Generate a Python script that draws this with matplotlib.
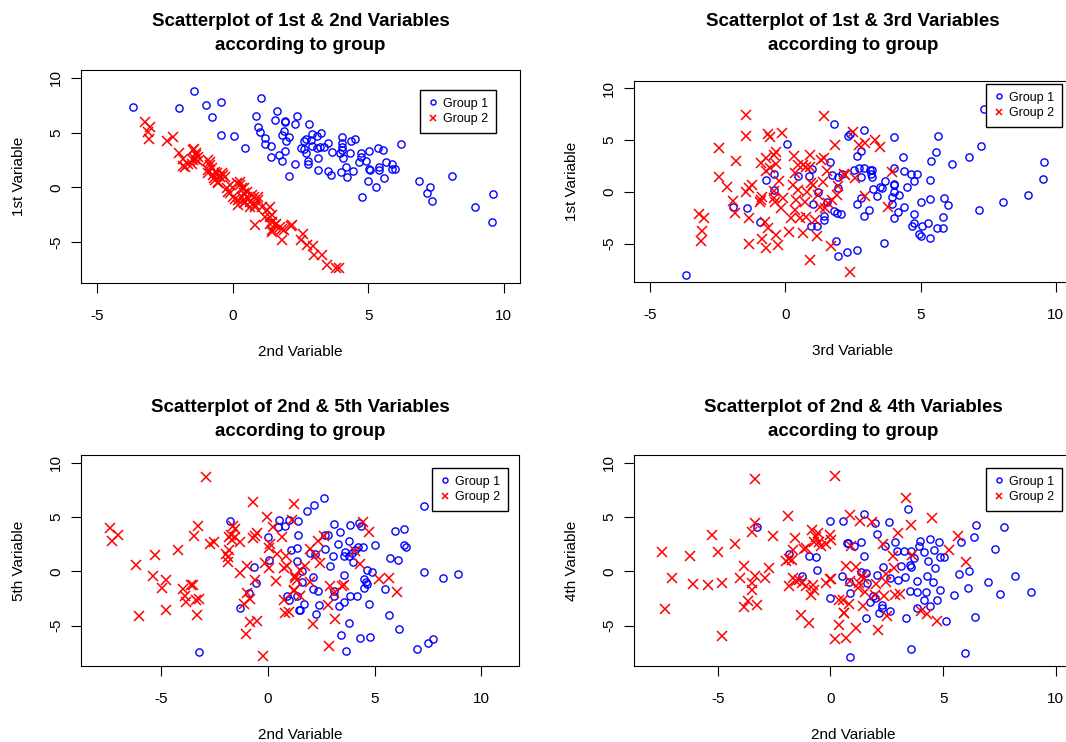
import matplotlib
matplotlib.use("Agg")
import matplotlib.pyplot as plt

plt.rcParams["font.family"] = ["Liberation Sans", "DejaVu Sans"]
plt.rcParams["axes.unicode_minus"] = False

# ---- panel 1: 2nd (x) vs 1st (y) ----
p1_g1_x = [-3.69, -1.42, -1.98, -0.99, -0.42, -0.77, -0.42, 0.06, 1.03, 0.84, 1.63, 1.55, 1.91, 1.91,
           0.93, 0.99, 2.38, 2.29, 1.20, 1.20, 1.41, 1.89, 1.81, 2.08, 1.98, 1.91, 1.72, 1.41, 1.81,
           2.29, 2.08, 0.45, 2.50, 2.81, 2.93, 3.12, 3.24, 2.72, 2.62, 2.90, 2.62, 2.69, 2.91, 3.10,
           3.22, 3.37, 3.51, 3.68, 4.02, 4.02, 4.02, 4.02, 3.96, 4.33, 4.38, 4.52, 4.07, 4.75, 5.04,
           5.35, 5.56, 4.73, 4.67, 4.91, 4.17, 3.98, 4.42, 4.21, 5.01, 5.05, 5.38, 5.41, 5.66, 5.88,
           5.88, 6.00, 4.98, 5.29, 5.59, 6.21, 4.77, 3.16, 3.16, 3.53, 3.64, 2.77, 2.77, 6.86, 7.27,
           7.15, 7.35, 8.08, 8.95, 9.60, 9.57]
p1_g1_y = [7.38, 8.84, 7.23, 7.56, 7.77, 6.40, 4.79, 4.66, 8.20, 6.49, 7.01, 6.19, 6.07, 5.95,
           5.55, 5.09, 6.49, 5.76, 4.48, 3.96, 3.81, 5.12, 4.79, 4.57, 4.27, 3.32, 2.96, 2.74, 2.44,
           2.10, 1.04, 3.60, 3.60, 5.76, 4.88, 4.66, 4.94, 4.42, 4.27, 4.33, 3.51, 3.11, 3.78, 3.57,
           3.72, 3.66, 4.02, 3.26, 4.57, 4.09, 3.66, 3.41, 3.11, 3.11, 4.27, 4.45, 2.65, 3.17, 3.29,
           3.60, 3.38, 2.74, 2.35, 2.44, 1.89, 1.37, 1.49, 0.91, 1.68, 1.59, 1.89, 1.59, 2.32, 2.16,
           1.68, 1.68, 0.61, 0.06, 0.82, 3.93, -0.88, 2.65, 1.59, 1.49, 1.13, 2.44, 2.10, 0.58, 0.06,
           -0.49, -1.22, 1.01, -1.77, -0.61, -3.17]
p1_g2_x = [-3.22, -3.04, -3.11, -3.09, -2.43, -2.20, -1.98, -1.83, -1.77, -1.44, -1.34, -1.40, -1.27,
           -1.49, -0.84, -0.90, -0.78, -0.72, -0.59, -0.47, -0.35, -0.66, -0.53, -0.22, -0.10, 0.15,
           0.27, 0.33, 0.40, 0.52, 0.77, 0.95, 0.64, 0.40, 0.83, 1.08, 1.26, 1.39, 1.45, 1.58, 1.73,
           0.83, 1.45, 1.88, 2.15, 1.82, 2.50, -0.16, 0.02, 0.21, 2.60, 2.75, 2.97, 3.00, 3.31, 3.49,
           3.80, 3.92, -1.46, -1.37, -1.27, -1.46, -1.65, -1.83, -0.90, -0.84, -0.65, -0.41, -0.29,
           -0.90, -0.71, -0.53, -0.10, 0.27, 0.40, 0.52, 0.33, 0.46, 0.70, 0.95, 0.82, 0.63, 1.20,
           1.38, 1.45, 1.38, 1.57, 1.45, 1.82, 2.19, 0.09, 0.21]
p1_g2_y = [6.01, 5.55, 5.09, 4.39, 4.24, 4.63, 3.11, 2.56, 1.89, 3.51, 2.96, 2.56, 2.44, 2.10, 2.35,
           1.59, 1.74, 1.13, 1.28, 0.98, 1.13, 0.67, 0.52, -0.09, 0.21, 0.37, 0.52, -0.09, -0.55,
           -0.85, -0.85, -0.85, -1.31, -1.46, -1.77, -1.77, -2.07, -2.68, -3.14, -3.29, -3.60, -3.45,
           -3.90, -3.90, -3.54, -4.82, -4.82, -0.40, -0.85, -1.16, -4.21, -5.27, -5.34, -6.19, -6.19,
           -7.10, -7.35, -7.32, 3.41, 3.11, 2.80, 2.50, 2.10, 1.98, 2.50, 2.04, 1.43, 1.28, 0.98,
           1.28, 0.82, 0.37, -0.55, 0.21, -0.09, -0.40, -0.85, -1.31, -0.70, -1.16, -1.62, -1.77,
           -2.68, -1.77, -2.53, -3.29, -3.45, -4.05, -3.75, -3.45, -1.01, -1.62]

# ---- panel 2: 3rd (x) vs 1st (y) ----
p2_g1_x = [-3.66, -1.95, -1.41, -0.94, -0.72, -0.41, -0.41, 0.06, 0.46, 0.88, 1.00, 1.21, 1.03, 1.53,
           0.94, 1.16, 1.44, 1.43, 1.65, 1.74, 1.93, 2.09, 1.94, 1.78, 1.90, 2.05, 1.88, 1.96, 2.28,
           1.81, 2.31, 2.40, 2.89, 4.02, 5.63, 7.34, 7.24, 6.80, 6.18, 5.40, 5.58, 4.34, 2.81, 2.66,
           2.71, 2.92, 2.55, 3.13, 3.19, 3.16, 3.19, 2.78, 4.02, 4.40, 4.65, 4.86, 4.75, 5.36, 3.69,
           3.50, 3.56, 3.25, 4.00, 4.03, 4.51, 3.38, 4.03, 4.21, 3.96, 2.78, 2.65, 3.11, 2.89, 3.94,
           4.38, 4.15, 4.03, 5.01, 5.36, 4.74, 4.74, 4.69, 5.05, 5.27, 4.94, 5.00, 5.36, 5.61, 5.84,
           5.84, 6.01, 5.88, 7.16, 8.04, 8.96, 9.54, 9.57, 3.64, 2.63]
p2_g1_y = [-8.03, -1.42, -1.52, -2.87, 1.16, 1.74, 0.16, 4.58, 1.58, 1.58, 2.19, -0.03, -1.16, -1.03,
           -3.26, -3.35, -2.29, -2.77, 2.87, 1.65, 1.48, 1.71, 0.35, -1.84, -2.06, -2.13, -4.71, -6.19,
           -5.81, 6.55, 5.42, 5.58, 6.00, 5.29, 5.42, 8.03, 4.39, 3.35, 2.68, 2.94, 3.81, 3.35, 3.94,
           3.48, 2.35, 2.35, 2.13, 2.13, 2.13, 1.71, 1.48, 1.45, 2.35, 1.97, 1.71, 1.77, 1.06, 1.19,
           1.06, 0.42, 0.35, 0.29, 0.77, 0.68, 0.42, -0.39, 0.03, -0.29, -0.52, -0.55, -1.19, -1.77,
           -2.32, -1.19, -1.42, -1.97, -2.55, -1.03, -0.74, -2.10, -2.97, -3.26, -3.26, -2.97, -4.10,
           -4.26, -4.48, -3.52, -3.45, -2.48, -1.29, -0.61, -1.77, -0.97, -0.26, 1.29, 2.90, -4.94,
           -5.61]
p2_g2_x = [-1.45, -1.45, -2.45, -1.81, -2.44, -2.15, -1.94, -1.85, -3.20, -3.01, -3.10, -3.14, -1.35,
           -1.33, -1.45, -1.33, -1.22, -0.90, -0.94, -0.85, -0.66, -0.56, -0.14, -0.33, -0.44, -0.72,
           -0.91, -0.72, -0.56, -0.33, -0.22, -0.41, -0.44, -0.39, -0.10, -0.16, -0.75, -0.66, -0.88,
           -0.70, -0.35, -0.26, 0.13, 0.30, 0.92, 0.34, 0.27, 0.46, 0.80, 0.40, 0.71, 0.34, 0.21, 0.53,
           0.65, 0.78, 1.09, 1.15, 0.92, 0.46, 0.65, 0.78, 0.92, 0.96, 1.03, 1.21, 1.40, 1.27, 1.45,
           1.59, 1.71, 1.90, 1.96, 1.84, 1.44, 1.31, 1.44, 1.52, 1.68, 2.40, 2.21, 2.50, 2.74, 2.94,
           3.30, 3.49, 2.17, 2.59, 3.94, 2.94, 3.78]
p2_g2_y = [7.45, 5.42, 4.23, 2.94, 1.42, 0.42, -0.87, -2.03, -2.16, -2.55, -3.74, -4.74, -2.55, -5.06,
           0.03, 0.35, 0.68, -0.77, -1.03, -0.52, 5.58, 5.32, 5.68, 3.81, 3.58, 3.26, 2.77, 1.97, 2.29,
           2.68, 1.06, 0.10, -0.61, -0.94, -0.61, -1.58, -2.87, -3.45, -4.55, -5.45, -4.16, -5.13,
           -3.84, 3.48, 3.58, 1.81, 0.68, 0.19, 0.03, -0.77, -0.94, -1.74, -2.55, -2.55, -4.00, -2.48,
           -2.77, -4.23, -6.58, 2.61, 2.61, 2.45, 2.45, 0.90, 0.68, -0.29, 0.94, -1.42, -1.58, -1.10,
           -0.77, -0.29, 0.58, 4.55, 7.29, 3.10, 3.26, 1.97, -5.19, -7.71, 1.65, 5.77, 4.55, 4.74,
           5.00, 4.32, 1.71, 1.32, 1.94, -0.42, -1.45]

# ---- panel 3: 2nd (x) vs 5th (y) ----
p3_g1_x = [-1.76, -3.21, 0.00, 0.03, -0.64, -0.56, -0.89, -1.29, 0.53, 0.47, 0.81, 0.97, 1.40, 1.40,
           1.08, 1.36, 1.36, 0.89, 0.97, 1.47, 2.61, 2.14, 1.83, 2.67, 2.81, 3.07, 3.39, 3.85, 4.26,
           4.37, 3.78, 3.28, 2.65, 2.22, 1.98, 1.59, 2.12, 1.59, 1.36, 1.70, 1.51, 2.09, 2.36, 2.26,
           2.40, 3.04, 2.89, 3.54, 3.62, 3.78, 3.98, 3.93, 4.09, 4.24, 4.44, 5.02, 3.54, 3.10, 3.07,
           3.82, 4.17, 3.54, 3.31, 4.71, 4.63, 4.87, 4.51, 4.60, 4.66, 4.48, 5.46, 5.73, 6.07, 5.96,
           6.35, 6.38, 6.46, 7.29, 8.22, 8.89, 7.33, 5.69, 6.13, 3.78, 3.43, 3.67, 4.32, 4.79, 6.97,
           7.49, 7.72]
p3_g1_y = [4.65, -7.43, 3.12, 1.07, 0.40, -1.07, -1.99, -3.36, 4.74, 4.13, 4.19, 4.74, 4.65, 3.36,
           1.93, 2.14, 0.95, -2.23, -2.60, -3.58, 6.79, 6.15, 5.60, 3.36, 3.33, 4.37, 3.58, 4.31, 4.43,
           4.19, 2.81, 2.54, 2.05, 1.62, 1.68, 0.06, -0.55, -0.95, -2.23, -2.97, -3.55, -1.62, -1.77,
           -3.91, -3.12, 1.38, 0.46, 1.44, 1.77, 1.38, 0.86, 1.68, 1.99, 2.23, 2.26, 2.39, -0.37,
           -1.83, -2.29, -2.29, -2.23, -2.81, -3.21, -3.00, 0.15, -0.09, -0.70, -1.01, -1.13, -1.56,
           -1.62, 1.19, 1.01, 3.76, 3.88, 2.45, 2.23, -0.09, -0.61, -0.24, 6.02, -3.98, -5.29, -4.74,
           -5.90, -7.34, -6.18, -6.06, -7.13, -6.57, -6.27]
p3_g2_x = [-2.90, -7.41, -7.02, -7.30, -6.16, -5.27, -5.38, -4.77, -4.95, -6.04, -4.77, -4.23, -3.29,
           -3.45, -3.99, -3.59, -3.51, -3.88, -3.83, -3.35, -3.21, -3.32, -2.70, -2.54, -1.97, -1.89,
           -1.87, -1.81, -1.64, -1.53, -1.73, -1.81, -1.68, -1.53, -1.30, -0.70, -0.70, -0.59, -0.51,
           -1.30, -0.98, -0.59, -0.98, -0.83, -1.14, -0.83, -0.51, -1.05, -0.23, -0.05, 0.08, 0.03,
           -0.12, 0.03, 0.39, 0.42, 0.66, 0.84, 0.89, 0.73, 1.20, 1.28, 1.20, 0.73, 0.81, 0.97, 0.23,
           1.12, 2.61, 2.33, 1.98, 2.26, 2.45, 1.75, 1.28, 1.36, 1.20, 1.51, 1.98, 1.51, 4.45, 4.74,
           4.09, 4.29, 5.18, 5.65, 6.04, 2.89, 3.07, 3.54, 3.46, 2.81, 3.12, 2.11, 2.84]
p3_g2_y = [8.65, 4.04, 3.36, 2.84, 0.55, 1.53, -0.40, -0.83, -1.56, -4.13, -3.52, 1.93, 4.22, 3.27,
           -1.62, -1.22, -1.28, -2.29, -2.84, -2.60, -2.54, -4.04, 2.51, 2.66, 1.62, 1.31, 0.86, 1.99,
           4.19, 3.88, 3.36, 3.15, 2.91, 3.15, 2.75, 6.42, 3.06, 3.27, 3.52, -0.15, 0.46, -0.76, -1.99,
           -2.51, -2.97, -4.68, -4.59, -5.75, -7.80, 4.98, 2.54, 2.14, 0.76, 0.31, -0.92, 1.59, 3.21,
           1.44, 0.46, 0.31, 6.21, -0.61, -1.68, -2.60, -3.82, -3.73, 4.13, 4.74, 3.30, 2.84, 2.05,
           1.53, 0.76, 0.46, -0.46, -0.83, -1.83, -2.23, -1.01, 0.15, 4.59, 3.67, 1.87, 0.70, -0.70,
           -0.61, -1.87, -1.38, -1.99, -1.22, -1.38, -3.06, -4.37, -4.89, -6.88]

# ---- panel 4: 2nd (x) vs 4th (y) ----
p4_g1_x = [-3.25, -1.83, -1.26, -0.97, -0.64, -0.58, -0.01, 0.56, 0.74, 0.50, 0.82, -0.01, 0.88, 0.85,
           1.50, 1.99, 2.60, 3.45, 2.08, 1.37, 0.77, 1.04, 1.50, 2.85, 2.41, 2.96, 3.27, 3.59, 3.70,
           3.94, 3.97, 4.16, 4.42, 4.60, 4.80, 4.88, 5.06, 4.34, 4.65, 3.13, 3.52, 3.59, 2.33, 1.37,
           1.56, 1.62, 2.08, 2.63, 3.01, 3.30, 3.86, 4.29, 4.53, 4.85, 4.23, 3.85, 3.55, 4.14, 4.71,
           4.41, 3.86, 3.34, 2.66, 2.30, 2.27, 2.14, 1.89, 1.77, 1.99, 1.56, 5.11, 5.49, 5.69, 6.12,
           6.16, 5.81, 6.37, 6.47, 7.01, 7.31, 7.53, 7.72, 8.20, 8.92, 6.41, 3.59, 5.97]
p4_g1_y = [4.07, 1.59, -0.40, 1.38, 1.28, 0.09, 4.62, 4.62, 2.60, -0.40, -1.01, -2.45, -1.99, -7.86,
           5.29, 4.50, 4.53, 5.72, 3.46, 2.66, 2.57, 2.29, 1.38, 2.75, 2.29, 1.83, 1.83, 1.83, 1.22,
           2.29, 2.81, 1.74, 3.00, 1.93, 2.69, 1.31, 1.28, 0.92, 0.31, 0.52, 0.61, 0.40, 0.40, -0.09,
           -0.15, -1.07, -0.31, -0.61, -0.76, -0.52, -0.86, -0.40, -0.95, -1.74, -1.93, -1.93, -1.83,
           -2.60, -2.60, -3.21, -3.36, -4.34, -3.61, -3.36, -3.06, -3.82, -2.29, -2.84, -2.45, -4.34,
           -4.53, -2.20, -0.21, -1.50, 0.00, 2.75, 3.12, 4.28, -0.98, 2.05, -2.05, 4.07, -0.46, -1.93,
           -4.19, -7.13, -7.55]
p4_g2_x = [-7.47, -7.35, -7.05, -6.24, -6.10, -5.43, -5.27, -4.97, -4.80, -4.80, -4.23, -4.01, -3.86,
           -3.86, -3.64, -3.50, -3.50, -3.34, -3.28, -3.49, -3.36, -3.34, -2.90, -2.72, -2.54, -1.87,
           -1.86, -1.98, -1.72, -1.68, -1.56, -1.86, -1.68, -1.53, -1.38, -1.26, -1.31, -0.94, -1.08,
           -0.79, -0.86, -0.71, -1.16, -1.08, -0.82, -0.64, -0.56, -0.71, -0.52, -0.42, -0.19, -0.04,
           0.03, -0.22, -0.04, 0.03, 0.22, 0.37, 0.55, 0.70, 0.62, 0.40, 0.22, 0.70, 0.85, 3.37, 1.32,
           1.84, 3.56, 3.00, 4.51, 2.33, 0.92, 2.78, 3.64, 2.82, 1.14, 1.41, 1.48, 1.26, 0.88, 1.22,
           1.52, 2.48, 2.48, 2.01, 2.38, 1.96, 2.88, 3.07, 0.82, 0.58, 1.44, 2.52, 1.14, 2.11, 5.64,
           5.24, 6.01, 4.01, 4.29, 4.74]
p4_g2_y = [1.74, -3.43, -0.61, 1.44, -1.16, -1.22, 3.36, 1.74, -1.07, -5.96, 2.51, -0.61, 0.52, -3.30,
           -2.75, -1.68, -1.07, -0.40, -3.06, 3.67, 4.50, 8.53, -0.61, 0.31, 3.27, 5.11, 1.13, 0.92,
           1.07, 1.99, 3.06, -1.38, -0.61, -0.92, -0.76, -1.07, -3.98, -4.80, -1.38, -1.22, -2.20,
           -1.68, 2.05, 2.14, 3.82, 3.15, 3.52, 2.75, 2.75, 2.29, 2.51, 3.36, 2.91, -1.07, -0.67, -0.70,
           8.78, -2.66, -2.60, 0.46, -3.82, -4.98, -6.21, -6.12, 5.20, 6.73, 4.68, 4.59, 4.28, 3.52,
           4.89, 2.51, 2.35, 1.38, 1.47, 0.31, 0.40, -0.46, -0.70, -1.07, -0.92, -1.53, -1.93, -0.21,
           -1.01, -1.16, -2.29, -2.20, -2.14, -2.05, -3.00, -3.82, -3.21, -4.13, -5.26, -5.44, 3.27,
           1.99, 0.83, -3.61, -3.91, -4.59]

W, H = 1066, 742
fig = plt.figure(figsize=(W / 100, H / 100), dpi=100)


def px_axes(l, t, r, b):
    return fig.add_axes([l / W, 1 - b / H, (r - l) / W, (b - t) / H])


panels = [
    dict(box=(81, 70, 520, 283), xlim=(-5.6, 10.6), ylim=(-8.72, 10.72),
         data=(p1_g1_x, p1_g1_y, p1_g2_x, p1_g2_y),
         title="Scatterplot of 1st & 2nd Variables", ty=(22, 46),
         xl="2nd Variable", yl="1st Variable", leg=(496, 90)),
    dict(box=(634, 81, 1072, 282), xlim=(-5.6, 10.6), ylim=(-8.72, 10.72),
         data=(p2_g1_x, p2_g1_y, p2_g2_x, p2_g2_y),
         title="Scatterplot of 1st & 3rd Variables", ty=(22, 46),
         xl="3rd Variable", yl="1st Variable", leg=(1062, 84)),
    dict(box=(81, 455, 519, 666), xlim=(-8.76, 11.76), ylim=(-8.72, 10.72),
         data=(p3_g1_x, p3_g1_y, p3_g2_x, p3_g2_y),
         title="Scatterplot of 2nd & 5th Variables", ty=(408, 431),
         xl="2nd Variable", yl="5th Variable", leg=(508, 468)),
    dict(box=(634, 455, 1072, 666), xlim=(-8.72, 10.72), ylim=(-8.72, 10.72),
         data=(p4_g1_x, p4_g1_y, p4_g2_x, p4_g2_y),
         title="Scatterplot of 2nd & 4th Variables", ty=(408, 431),
         xl="2nd Variable", yl="4th Variable", leg=(1062, 468)),
]

for p in panels:
    l, t, r, b = p["box"]
    ax = px_axes(l, t, r, b)
    g1x, g1y, g2x, g2y = p["data"]
    ax.plot(g1x, g1y, linestyle="none", marker="o", markersize=5.2, markerfacecolor="none",
            markeredgecolor="blue", markeredgewidth=1.0, label="Group 1")
    ax.plot(g2x, g2y, linestyle="none", marker="x", markersize=6.5, color="red",
            markeredgewidth=1.1, label="Group 2")
    ax.set_xlim(p["xlim"])
    ax.set_ylim(p["ylim"])
    ax.set_xticks([-5, 0, 5, 10])
    ax.set_yticks([-5, 0, 5, 10])
    ax.tick_params(axis="both", direction="out", length=7.5, width=0.8, labelsize=11, color="black")
    ax.tick_params(axis="x", pad=11)
    ax.tick_params(axis="y", pad=5.5)
    for lbl in ax.get_yticklabels():
        lbl.set_rotation(90)
        lbl.set_va("center")
    for s in ax.spines.values():
        s.set_linewidth(0.8)
        s.set_color("black")

    cx = (l + r) / 2
    fig.text(cx / W, 1 - p["ty"][0] / H, p["title"], ha="center", va="center",
             fontsize=13.5, fontweight="bold")
    fig.text(cx / W, 1 - p["ty"][1] / H, "according to group", ha="center", va="center",
             fontsize=13.5, fontweight="bold")
    fig.text(cx / W, 1 - (b + 69) / H, p["xl"], ha="center", va="center", fontsize=11)
    fig.text((l - 62) / W, 1 - (t + b) / 2 / H, p["yl"], ha="center", va="center",
             fontsize=11, rotation=90)

    lx, ly = p["leg"]
    leg = ax.legend(loc="upper right", bbox_to_anchor=(lx / W, 1 - ly / H),
                    bbox_transform=fig.transFigure, fontsize=9, frameon=True, fancybox=False,
                    edgecolor="black", framealpha=1, borderpad=0.6, labelspacing=0.3,
                    handlelength=0.8, handletextpad=0.45, borderaxespad=0, markerscale=0.7)
    leg.get_frame().set_linewidth(1.0)

fig.savefig("out.png", dpi=100)
